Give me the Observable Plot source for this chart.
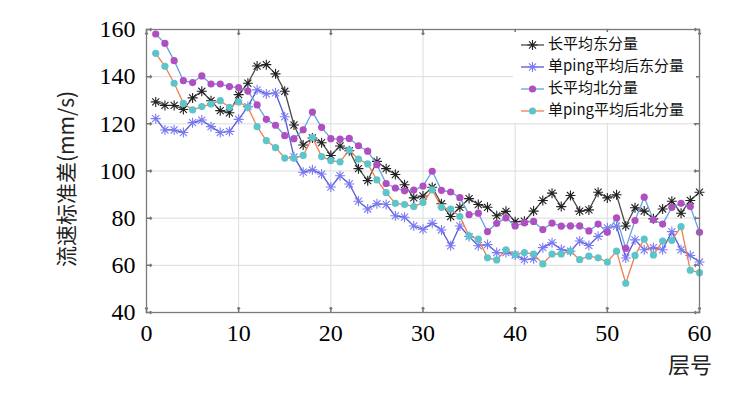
<!DOCTYPE html>
<html><head><meta charset="utf-8">
<script src="https://cdn.jsdelivr.net/npm/d3@7"></script>
<script src="https://cdn.jsdelivr.net/npm/@observablehq/plot@0.6"></script>
<style>body{margin:0;background:#fff;} #chart{position:relative;width:739px;height:394px;}</style>
</head><body><div id="chart"></div>
<script>
const layers = [1,2,3,4,5,6,7,8,9,10,11,12,13,14,15,16,17,18,19,20,21,22,23,24,25,26,27,28,29,30,31,32,33,34,35,36,37,38,39,40,41,42,43,44,45,46,47,48,49,50,51,52,53,54,55,56,57,58,59,60];
const longEast = [129.3,127.8,127.8,126.1,131,133.8,129.8,125.6,124.7,132.4,137.2,144.5,145.1,141.2,133.8,119.5,111,114,112,106.6,110.6,108.6,101,95.9,104.1,101,98.5,94.2,88.6,89.4,93.1,86.1,80.7,84.6,88.3,85.8,84.6,81,82.9,78.5,78.7,83,87.5,90.6,84.9,89.6,83,83.5,91,88.6,89.9,76.7,84.4,83,79.7,83.9,87.2,82.1,87.5,91];
const pingEast = [122.2,117.4,117.4,116.3,120.5,121.6,118.8,116.3,116.8,121.9,127.3,134.4,132.7,133.1,123,106,99.5,100.5,98.7,93.2,98,94.5,87.2,83.9,86.1,85.8,81,80.4,76.7,75.3,77.8,75,68.3,76.7,72.2,68.3,68.8,65.4,65.4,64.4,62.4,62.8,67.5,69.6,66.7,66,70.3,68.4,72.3,75.9,76.6,63.1,70.8,66.6,67.5,66.6,74.3,66.6,64.2,61.4];
const longNorth = [158.1,154.1,146.8,138.3,137.5,140.3,136.9,136.9,135.8,135.4,133.9,128,121.9,119.4,115,113.7,117.5,125,118.5,113.7,113.5,113.8,110.7,108.4,102.7,94.7,92.8,91.6,91.9,93.6,99.9,91.8,91.1,88.7,81.5,82.1,74.3,77.8,80.1,76.7,78.1,78.6,75.2,77.9,76.6,76.7,76.7,74.6,77.5,74,80.1,67.2,79,88.9,79.3,77.5,84.6,86.3,84.9,74];
const pingNorth = [149.9,144.4,137.2,128.7,125.9,127.3,128.4,129.8,127,129.3,127,118.8,112.9,109.9,105.5,105.5,106.6,114.2,106.1,104.4,103.9,108.9,105,103,96.2,90.8,86.3,85.8,84.9,86.6,92,84.6,83.8,80.7,72.5,71.1,63.2,62.3,66.6,64.6,65.4,64.8,60.6,64.8,64.8,66,62.4,63.9,63.2,61.4,66,52.4,64.2,71.1,64.4,70.3,70.6,76.4,57.9,56.9];
const seriesNames = ["长平均东分量","单ping平均后东分量","长平均北分量","单ping平均后北分量"];
const xTicks = [0,10,20,30,40,50,60];
const yTicks = [40,60,80,100,120,140,160];
const xLabel = "层号";
const yLabel = "流速标准差(mm/s)";

const styles = [
  {line:"#4a4a4a", mark:"#222222", sym:"star"},
  {line:"#5757d8", mark:"#7a7af2", sym:"star"},
  {line:"#66a3dc", mark:"#b04fc2", sym:"dot"},
  {line:"#f07e4e", mark:"#5cc5cc", sym:"dot"}
];
const allSeries = [longEast, pingEast, longNorth, pingNorth];
const rows = [];
allSeries.forEach((vals, si) => vals.forEach((v, i) => rows.push({s: seriesNames[si], layer: layers[i], v})));

const star8 = {draw(ctx, size){ const r = Math.sqrt(size/Math.PI); for (let i=0;i<4;i++){const a=i*Math.PI/4; ctx.moveTo(r*Math.cos(a), r*Math.sin(a)); ctx.lineTo(-r*Math.cos(a), -r*Math.sin(a));}}};

const marks = [
  Plot.gridX(xTicks.slice(1,-1), {stroke:"#dcdcdc", strokeOpacity:1}),
  Plot.gridY(yTicks.slice(1,-1), {stroke:"#dcdcdc", strokeOpacity:1}),
  Plot.vector(yTicks, {x: xTicks[0], y: d=>d, length: 5, rotate: 90, anchor:"start", stroke:"#777"}),
  Plot.vector(yTicks, {x: xTicks[xTicks.length-1], y: d=>d, length: 5, rotate: -90, anchor:"start", stroke:"#777"}),
  Plot.vector(xTicks, {x: d=>d, y: yTicks[0], length: 5, rotate: 0, anchor:"start", stroke:"#777"}),
  Plot.vector(xTicks, {x: d=>d, y: yTicks[yTicks.length-1], length: 5, rotate: 180, anchor:"start", stroke:"#777"}),
];
seriesNames.forEach((name, si) => {
  const data = rows.filter(d => d.s === name);
  marks.push(Plot.line(data, {x:"layer", y:"v", stroke: styles[si].line, strokeWidth: 1.3}));
  if (styles[si].sym === "star") {
    marks.push(Plot.dot(data, {x:"layer", y:"v", r: 5, symbol: star8, stroke: styles[si].mark, fill:"none", strokeWidth: 1.1}));
  } else {
    marks.push(Plot.dot(data, {x:"layer", y:"v", r: 3.6, fill: styles[si].mark, stroke: "none"}));
  }
});
marks.push(Plot.frame({stroke:"#7a7a7a", strokeWidth: 1.3}));
marks.push(Plot.axisX(xTicks, {tickSize: 0, tickPadding: 11, fontSize: 24, label: null, tickFormat: d=>String(d)}));
marks.push(Plot.axisY(yTicks, {tickSize: 0, tickPadding: 11, fontSize: 24, label: null, tickFormat: d=>String(d)}));

const chart = Plot.plot({
  width: 739, height: 394,
  marginLeft: 146, marginRight: 40, marginTop: 29, marginBottom: 82,
  style: {fontFamily: "'Liberation Serif', 'Times New Roman', serif", color: "#000", background: "#fff"},
  x: {domain: [0, 60]},
  y: {domain: [40, 160]},
  marks
});
document.getElementById("chart").appendChild(chart);

const svg = d3.select(chart);
svg.append("text").attr("transform","translate(68,179) rotate(-90)").attr("text-anchor","middle").attr("dominant-baseline","middle")
  .attr("font-size", 21).attr("font-family","'Noto Sans CJK SC','Liberation Serif',serif").attr("fill","#222").text(yLabel);
svg.append("text").attr("x", 690).attr("y", 367).attr("text-anchor","middle").attr("dominant-baseline","middle")
  .attr("font-size", 22).attr("font-family","'Noto Sans CJK SC',sans-serif").attr("fill","#222").text(xLabel);

// legend
const lg = svg.append("g").attr("text-anchor","start");
lg.append("rect").attr("x", 513).attr("y", 32).attr("width", 183).attr("height", 91).attr("fill","#fff").attr("stroke","none");
seriesNames.forEach((name, si) => {
  const y = 45 + si*22;
  lg.append("line").attr("x1",521).attr("x2",544).attr("y1",y).attr("y2",y).attr("stroke",styles[si].line).attr("stroke-width",1.3);
  if (styles[si].sym === "star") {
    const p = d3.path(); star8.draw(p, Math.PI*25);
    lg.append("path").attr("d", p.toString()).attr("transform",`translate(532.5,${y})`).attr("stroke",styles[si].mark).attr("fill","none").attr("stroke-width",1.1);
  } else {
    lg.append("circle").attr("cx",532.5).attr("cy",y).attr("r",3.6).attr("fill",styles[si].mark);
  }
  lg.append("text").attr("x",548).attr("y",y).attr("text-anchor","start").attr("dominant-baseline","middle").attr("font-size",15)
    .attr("font-family","'Noto Sans CJK SC','Liberation Serif',serif").attr("fill","#111").text(name);
});
</script>
</body></html>
